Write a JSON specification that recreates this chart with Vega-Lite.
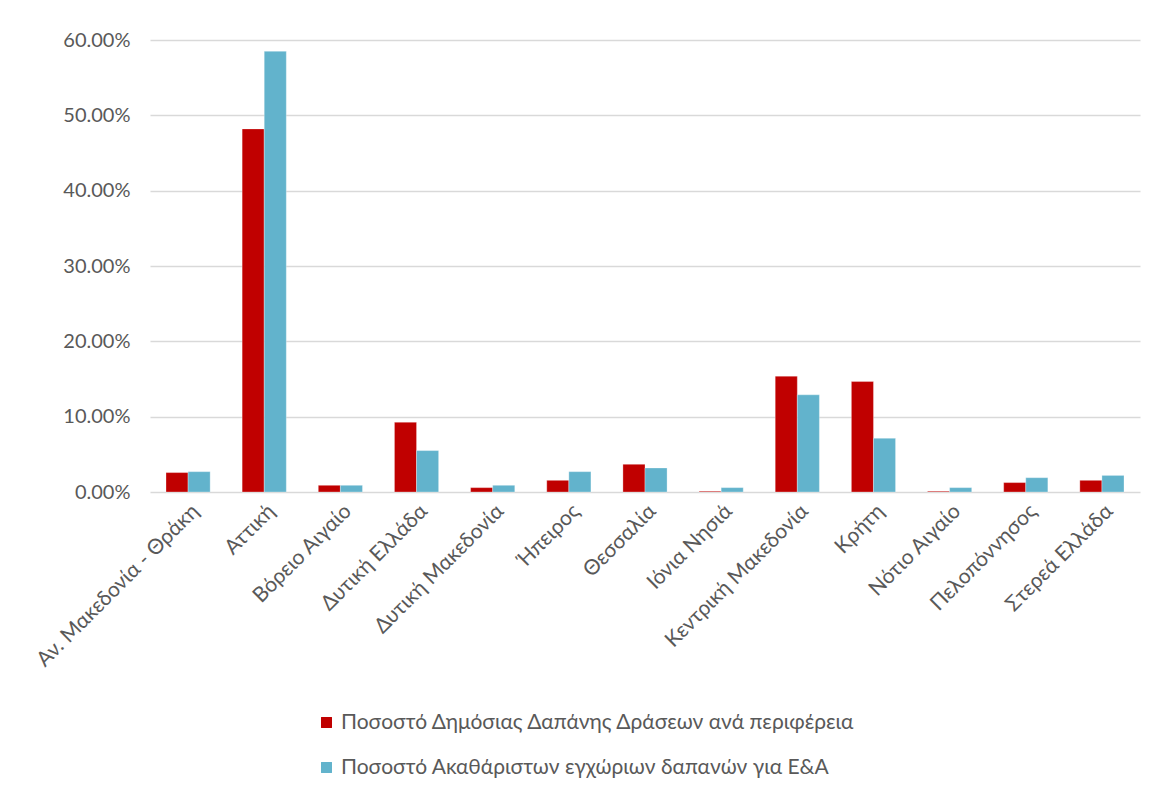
{
  "$schema": "https://vega.github.io/schema/vega-lite/v6.json",
  "width": 990,
  "height": 452,
  "autosize": {"type": "none"},
  "padding": {"left": 150, "top": 40, "right": 18, "bottom": 305},
  "background": "white",
  "config": {
    "view": {"stroke": null},
    "font": "Lato",
    "axis": {"labelFont": "Lato", "labelColor": "#595959"},
    "legend": {"labelFont": "Lato", "labelColor": "#595959"}
  },
  "data": {
    "values": [
      {"region": "Αν. Μακεδονία - Θράκη", "series": "Ποσοστό Δημόσιας Δαπάνης Δράσεων ανά περιφέρεια", "value": 0.0258},
      {"region": "Αν. Μακεδονία - Θράκη", "series": "Ποσοστό Ακαθάριστων εγχώριων δαπανών για Ε&Α", "value": 0.0270},
      {"region": "Αττική", "series": "Ποσοστό Δημόσιας Δαπάνης Δράσεων ανά περιφέρεια", "value": 0.4820},
      {"region": "Αττική", "series": "Ποσοστό Ακαθάριστων εγχώριων δαπανών για Ε&Α", "value": 0.5850},
      {"region": "Βόρειο Αιγαίο", "series": "Ποσοστό Δημόσιας Δαπάνης Δράσεων ανά περιφέρεια", "value": 0.0089},
      {"region": "Βόρειο Αιγαίο", "series": "Ποσοστό Ακαθάριστων εγχώριων δαπανών για Ε&Α", "value": 0.0089},
      {"region": "Δυτική Ελλάδα", "series": "Ποσοστό Δημόσιας Δαπάνης Δράσεων ανά περιφέρεια", "value": 0.0926},
      {"region": "Δυτική Ελλάδα", "series": "Ποσοστό Ακαθάριστων εγχώριων δαπανών για Ε&Α", "value": 0.0550},
      {"region": "Δυτική Μακεδονία", "series": "Ποσοστό Δημόσιας Δαπάνης Δράσεων ανά περιφέρεια", "value": 0.0058},
      {"region": "Δυτική Μακεδονία", "series": "Ποσοστό Ακαθάριστων εγχώριων δαπανών για Ε&Α", "value": 0.0089},
      {"region": "Ήπειρος", "series": "Ποσοστό Δημόσιας Δαπάνης Δράσεων ανά περιφέρεια", "value": 0.0155},
      {"region": "Ήπειρος", "series": "Ποσοστό Ακαθάριστων εγχώριων δαπανών για Ε&Α", "value": 0.0270},
      {"region": "Θεσσαλία", "series": "Ποσοστό Δημόσιας Δαπάνης Δράσεων ανά περιφέρεια", "value": 0.0368},
      {"region": "Θεσσαλία", "series": "Ποσοστό Ακαθάριστων εγχώριων δαπανών για Ε&Α", "value": 0.0319},
      {"region": "Ιόνια Νησιά", "series": "Ποσοστό Δημόσιας Δαπάνης Δράσεων ανά περιφέρεια", "value": 0.0010},
      {"region": "Ιόνια Νησιά", "series": "Ποσοστό Ακαθάριστων εγχώριων δαπανών για Ε&Α", "value": 0.0058},
      {"region": "Κεντρική Μακεδονία", "series": "Ποσοστό Δημόσιας Δαπάνης Δράσεων ανά περιφέρεια", "value": 0.1537},
      {"region": "Κεντρική Μακεδονία", "series": "Ποσοστό Ακαθάριστων εγχώριων δαπανών για Ε&Α", "value": 0.1290},
      {"region": "Κρήτη", "series": "Ποσοστό Δημόσιας Δαπάνης Δράσεων ανά περιφέρεια", "value": 0.1466},
      {"region": "Κρήτη", "series": "Ποσοστό Ακαθάριστων εγχώριων δαπανών για Ε&Α", "value": 0.0713},
      {"region": "Νότιο Αιγαίο", "series": "Ποσοστό Δημόσιας Δαπάνης Δράσεων ανά περιφέρεια", "value": 0.0010},
      {"region": "Νότιο Αιγαίο", "series": "Ποσοστό Ακαθάριστων εγχώριων δαπανών για Ε&Α", "value": 0.0058},
      {"region": "Πελοπόννησος", "series": "Ποσοστό Δημόσιας Δαπάνης Δράσεων ανά περιφέρεια", "value": 0.0125},
      {"region": "Πελοπόννησος", "series": "Ποσοστό Ακαθάριστων εγχώριων δαπανών για Ε&Α", "value": 0.0190},
      {"region": "Στερεά Ελλάδα", "series": "Ποσοστό Δημόσιας Δαπάνης Δράσεων ανά περιφέρεια", "value": 0.0155},
      {"region": "Στερεά Ελλάδα", "series": "Ποσοστό Ακαθάριστων εγχώριων δαπανών για Ε&Α", "value": 0.0220}
    ]
  },
  "mark": {"type": "bar", "stroke": "#ffffff", "strokeOpacity": 0.5, "strokeWidth": 0.6},
  "encoding": {
    "x": {
      "field": "region",
      "type": "nominal",
      "sort": null,
      "scale": {"paddingInner": 0.42, "paddingOuter": 0.21},
      "axis": {
        "title": null,
        "labelAngle": -45,
        "labelFontSize": 21,
        "labelPadding": 8,
        "labelLimit": 400,
        "ticks": false,
        "domain": false
      }
    },
    "xOffset": {"field": "series", "type": "nominal", "sort": null},
    "y": {
      "field": "value",
      "type": "quantitative",
      "scale": {"domain": [0, 0.6]},
      "axis": {
        "title": null,
        "values": [0, 0.1, 0.2, 0.3, 0.4, 0.5, 0.6],
        "format": ".2%",
        "labelFontSize": 20,
        "labelPadding": 20,
        "ticks": false,
        "domain": false,
        "grid": true,
        "gridColor": "#d9d9d9",
        "gridWidth": 1.5
      }
    },
    "color": {
      "field": "series",
      "type": "nominal",
      "sort": null,
      "scale": {
        "domain": ["Ποσοστό Δημόσιας Δαπάνης Δράσεων ανά περιφέρεια", "Ποσοστό Ακαθάριστων εγχώριων δαπανών για Ε&Α"],
        "range": ["#C00000", "#62B3CC"]
      },
      "legend": {
        "title": null,
        "orient": "none",
        "legendX": 166,
        "legendY": 672,
        "direction": "vertical",
        "symbolType": "square",
        "symbolSize": 120,
        "symbolStrokeWidth": 0,
        "labelFontSize": 21,
        "rowPadding": 23,
        "labelLimit": 900
      }
    }
  }
}
